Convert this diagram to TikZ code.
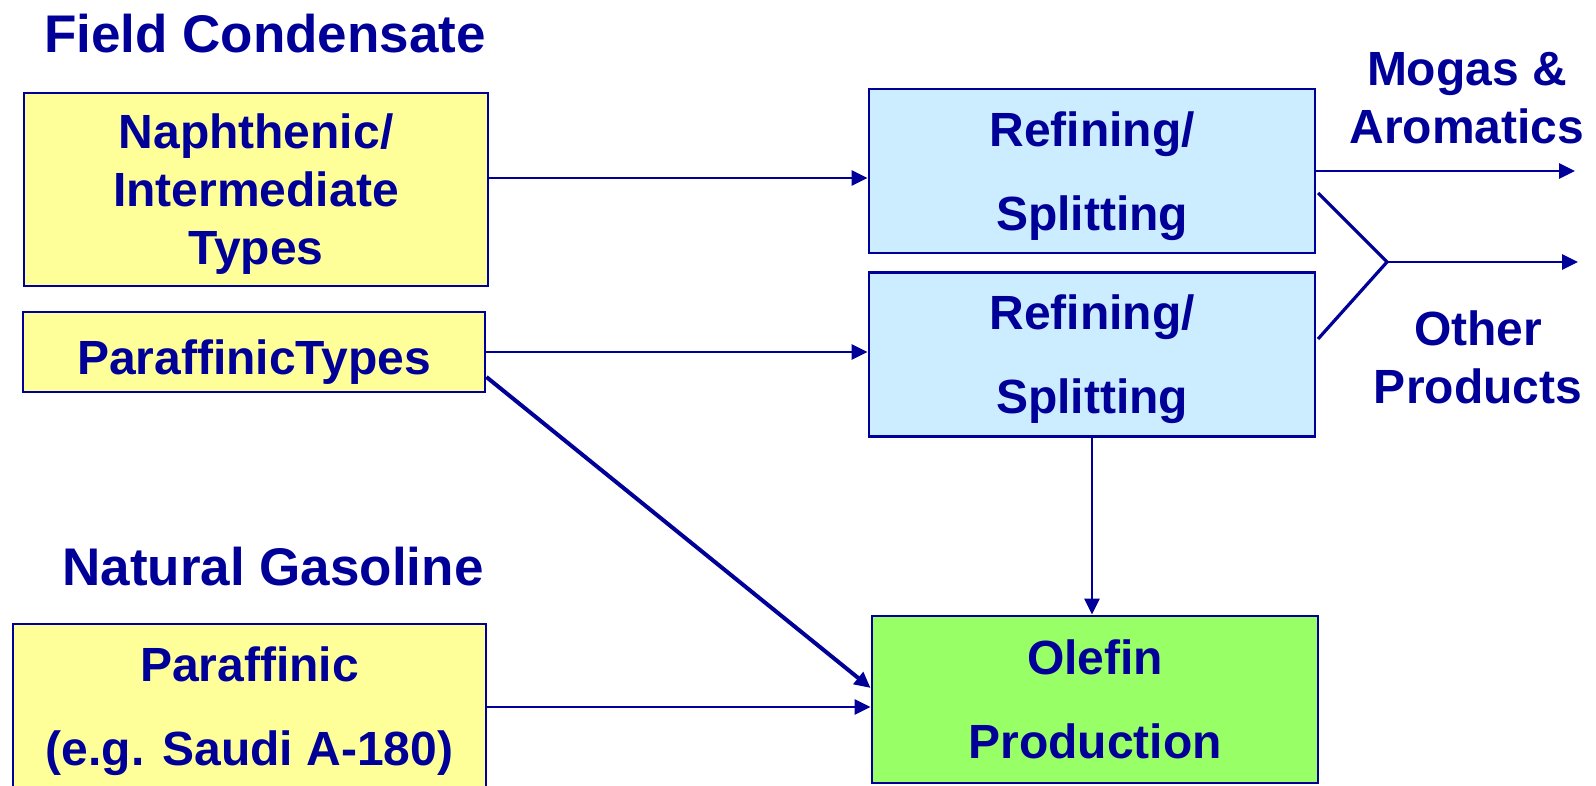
\documentclass[tikz,border=0pt]{standalone}
\usepackage{fontspec}
\setmainfont{Liberation Sans}
\usepackage{xcolor}
\usepackage{tikz}
\usetikzlibrary{positioning,arrows.meta}

\definecolor{ink}{RGB}{0,0,153}
\definecolor{feedyellow}{RGB}{255,255,153}
\definecolor{splitblue}{RGB}{204,236,255}
\definecolor{olefingreen}{RGB}{153,255,102}

\begin{document}
\begin{tikzpicture}[x=0.5pt, y=-0.5pt, ink, node distance = 8.5pt]
            \tikzstyle{box} = [draw=ink, line width=1.4pt, inner sep=0pt, align=center, font=\fontsize{24pt}{42pt}\selectfont\bfseries]
            \tikzstyle{feed} = [box, fill=feedyellow]
            \tikzstyle{split} = [box, fill=splitblue, minimum width=223pt, minimum height=82pt]
            \tikzstyle{heading} = [inner sep=0pt, font=\fontsize{26.5pt}{32pt}\selectfont\bfseries]
            \tikzstyle{product} = [inner sep=0pt, align=center, font=\fontsize{24pt}{29pt}\selectfont\bfseries]
            \tikzstyle{flow} = [line width=1.4pt, -{Triangle[length=8pt, width=7.5pt]}]
            \useasboundingbox (0,0) rectangle (1596,786);

            % feeds
            \node [heading, anchor=base] (fieldlbl) at (265,53) {Field Condensate};
            \node [feed, minimum width=232pt, minimum height=96.5pt, text depth=0pt, font=\fontsize{24pt}{29pt}\selectfont\bfseries] (naph) at (256,189.5) {Naphthenic/\\Intermediate\\Types};
            \node [feed, minimum width=231pt, minimum height=40pt, text height=22pt, text depth=0pt] (paraf) at (254,352) {ParaffinicTypes};
            \node [heading, anchor=base] (gaslbl) at (273,585) {Natural Gasoline};
            \node [feed, minimum width=236.5pt, minimum height=83pt, text depth=0.5pt] (natgas) at (249.5,707) {Paraffinic\\(e.g. Saudi A-180)};

            % units
            \node [split, text depth=-2pt] (refine1) at (1092,171) {Refining/\\Splitting};
            \node [split, text depth=0.5pt, below = of refine1] (refine2) {Refining/\\Splitting};
            \node [box, fill=olefingreen, minimum width=223pt, minimum height=83.5pt, text depth=0pt] (olefin) at (1095,699.5) {Olefin\\Production};

            % products
            \node [product] (mogaslbl) at (1467,98) {Mogas \&\\Aromatics};
            \node [product] (otherlbl) at (1478,357) {Other\\Products};

            \coordinate (naphout) at ([yshift=5.75pt]naph.east);
            \coordinate (parafout) at ([yshift=-12.5pt]paraf.east);
            \coordinate (olefinin) at ([yshift=5.75pt]olefin.west);
            \coordinate (mogasend) at (1575,171);
            \coordinate (forktop) at (1318,193);
            \coordinate (forkbot) at (1318,339);
            \coordinate (fork) at (1387,262);
            \coordinate (otherend) at (1578,262);

            \draw [flow] (naphout) -- (naphout -| refine1.west);
            \draw [flow] (paraf.east) -- (paraf.east -| refine2.west);
            \draw [flow, line width=2pt] (parafout) -- (olefinin);
            \draw [flow] (natgas.east) -- (natgas.east -| olefin.west);
            \draw [flow] (refine2.south) -- (refine2.south |- olefin.north);
            \draw [flow] (refine1.east) -- (mogasend);
            \draw [line width=1.6pt] (forktop) -- (fork) -- (forkbot);
            \draw [flow] (fork) -- (otherend);
        \end{tikzpicture}
\end{document}
